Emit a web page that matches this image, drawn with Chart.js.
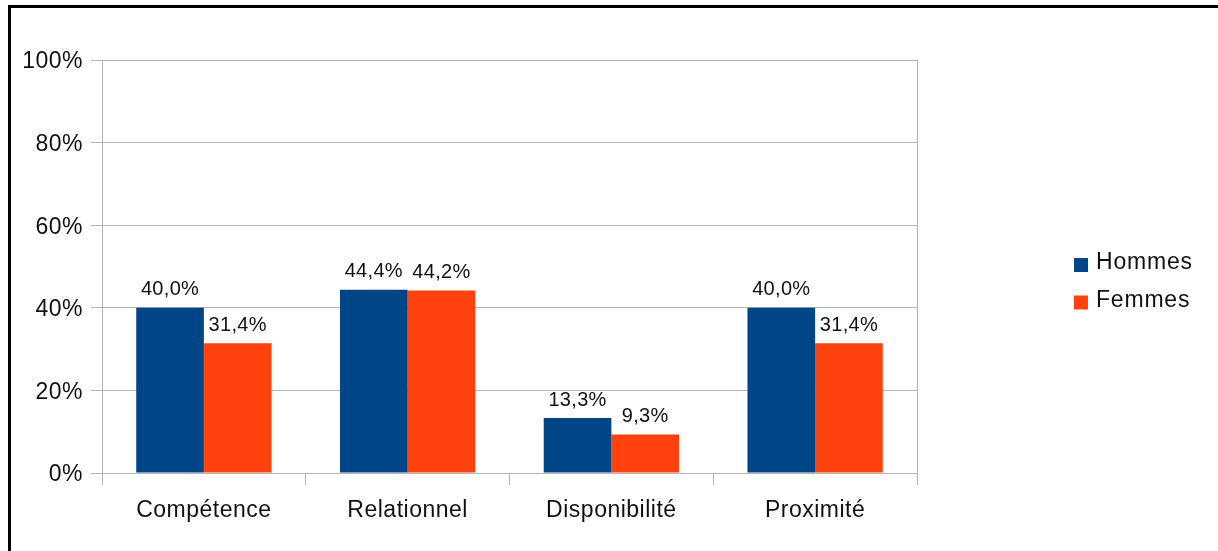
<!DOCTYPE html>
<html>
<head>
<meta charset="utf-8">
<script src="https://cdn.jsdelivr.net/npm/chart.js@4/dist/chart.umd.min.js"></script>
<style>
html,body{margin:0;padding:0;background:#fff;}
#wrap{position:relative;width:1218px;height:551px;}
</style>
</head>
<body>
<div id="wrap"><canvas id="c" width="1218" height="551"></canvas></div>
<script>
const categories = ["Compétence", "Relationnel", "Disponibilité", "Proximité"];
const hommes = [40.0, 44.4, 13.3, 40.0];
const femmes = [31.4, 44.2, 9.3, 31.4];
const seriesNames = ["Hommes", "Femmes"];
const seriesColors = ["#004586", "#ff420e"];
const yTicks = [0, 20, 40, 60, 80, 100];

const FONT = "'Liberation Sans', Arial, sans-serif";
const GRID = "#b3b3b3";
const TXT = "#111";

function fmt(v){ return v.toFixed(1).replace('.', ',') + '%'; }

const spacing = {
  id: 'spacing',
  beforeDraw(chart){ chart.ctx.letterSpacing = '0.5px'; }
};

const frame = {
  id: 'frame',
  afterDraw(chart){
    const ctx = chart.ctx;
    ctx.save();
    ctx.fillStyle = '#000';
    ctx.fillRect(8, 5, 3, 546);
    ctx.fillRect(8, 5, 1210, 3);
    ctx.restore();
  }
};

const valueLabels = {
  id: 'valueLabels',
  afterDatasetsDraw(chart){
    const ctx = chart.ctx;
    ctx.save();
    ctx.letterSpacing = '0.3px';
    ctx.font = "20px " + FONT;
    ctx.fillStyle = TXT;
    ctx.textAlign = 'center';
    ctx.textBaseline = 'middle';
    chart.data.datasets.forEach((ds, di) => {
      chart.getDatasetMeta(di).data.forEach((bar, i) => {
        ctx.fillText(fmt(ds.data[i]), bar.x, bar.y - 18);
      });
    });
    ctx.restore();
  }
};

const sideLegend = {
  id: 'sideLegend',
  afterDraw(chart){
    const ctx = chart.ctx;
    ctx.save();
    ctx.letterSpacing = '0.8px';
    ctx.font = "23px " + FONT;
    ctx.textBaseline = 'middle';
    ctx.textAlign = 'left';
    chart.data.datasets.forEach((ds, i) => {
      const cy = 263 + i * 37.5;
      ctx.fillStyle = ds.backgroundColor;
      ctx.fillRect(1074, cy - 5, 14, 14);
      ctx.fillStyle = TXT;
      ctx.fillText(ds.label, 1096, cy);
    });
    ctx.restore();
  }
};

new Chart(document.getElementById('c'), {
  type: 'bar',
  data: {
    labels: categories,
    datasets: [
      { label: seriesNames[0], data: hommes, backgroundColor: seriesColors[0], borderWidth: 0 },
      { label: seriesNames[1], data: femmes, backgroundColor: seriesColors[1], borderWidth: 0 }
    ]
  },
  options: {
    responsive: false,
    animation: false,
    devicePixelRatio: 1,
    layout: { padding: { left: 0, top: 60, right: 301, bottom: 0 } },
    categoryPercentage: 0.664,
    barPercentage: 1.0,
    plugins: { legend: { display: false }, tooltip: { enabled: false } },
    scales: {
      x: {
        offset: true,
        grid: { offset: true, drawOnChartArea: false, drawTicks: true, tickLength: 12, color: GRID, lineWidth: 1 },
        border: { display: true, color: GRID, width: 1 },
        ticks: { color: TXT, font: { family: FONT, size: 23 }, padding: 12, maxRotation: 0 },
        afterFit(scale){ scale.height = 78; }
      },
      y: {
        min: 0, max: 100,
        afterBuildTicks(scale){ scale.ticks = yTicks.map(v => ({ value: v })); },
        grid: { color: GRID, lineWidth: 1, tickLength: 11, drawTicks: true },
        border: { display: true, color: GRID, width: 1 },
        ticks: { color: TXT, font: { family: FONT, size: 23 }, padding: 8, labelOffset: 2, callback: v => v + '%' },
        afterFit(scale){ scale.width = 102; }
      },
      y2: {
        position: 'right',
        min: 0, max: 100,
        grid: { display: false, drawOnChartArea: false, drawTicks: false },
        border: { display: true, color: GRID, width: 1 },
        ticks: { display: false },
        afterFit(scale){ scale.width = 0; }
      }
    }
  },
  plugins: [spacing, frame, valueLabels, sideLegend]
});
</script>
</body>
</html>
